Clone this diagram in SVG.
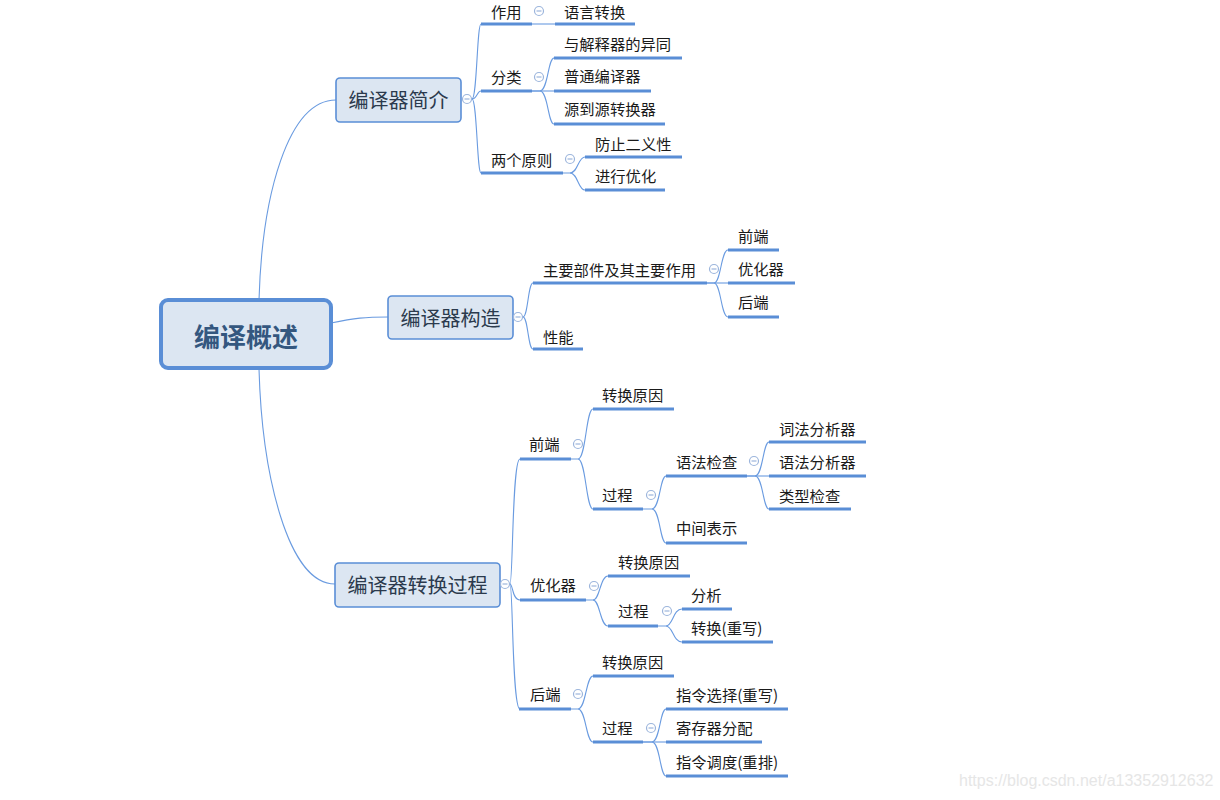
<svg xmlns="http://www.w3.org/2000/svg" width="1220" height="800" viewBox="0 0 1220 800">
<style>
.bg{fill:#ffffff}
.root{fill:#dce6f2;stroke:#5a8ed6;stroke-width:4}
.n1{fill:#dce6f2;stroke:#5a8ed6;stroke-width:1.6}
.rt{font-family:"Noto Sans CJK SC","Microsoft YaHei",sans-serif;font-size:26px;font-weight:bold;fill:#34577f;text-anchor:middle}
.t1{font-family:"Noto Sans CJK SC","Microsoft YaHei",sans-serif;font-size:20px;fill:#2b3a4d;text-anchor:middle}
.t{font-family:"Noto Sans CJK SC","Microsoft YaHei",sans-serif;font-size:15.3px;fill:#1a1a1a}
.ul{stroke:#5a8ed6;stroke-width:3;fill:none}
.c{stroke:#6a9be0;stroke-width:1.1;fill:none}
.col{fill:#ffffff;stroke:#9cb5dc;stroke-width:1.2}
.minus{stroke:#9cb5dc;stroke-width:1.2}
.wm{font-family:"Liberation Sans",Arial,sans-serif;font-size:16px;fill:#e6e6e6}
</style>
<defs>
<g id="cl"><circle class="col" cx="0" cy="0" r="4.5"/><line class="minus" x1="-2.5" y1="0" x2="2.5" y2="0"/></g>
</defs>
<rect class="bg" x="0" y="0" width="1220" height="800"/>

<g id="connectors">
<path class="c" d="M259,300 C262,195 288,100 336,100"/>
<path class="c" d="M331,323 C355,318 365,317 388,317"/>
<path class="c" d="M259,369 C262,475 288,584 335,584"/>
<path class="c" d="M472,99 C477,99 477,24 481,24"/>
<path class="c" d="M472,99 C477,99 477,91 481,91"/>
<path class="c" d="M472,99 C477,99 477,173 481,173"/>
<path class="c" d="M532,24 H555"/>
<path class="c" d="M532,91 H540 C548,91 548,58 554,58"/>
<path class="c" d="M532,91 H554"/>
<path class="c" d="M540,91 C548,91 548,124 554,124"/>
<path class="c" d="M563,173 H570 C578,173 578,157 585,157"/>
<path class="c" d="M570,173 C578,173 578,190 585,190"/>
<path class="c" d="M523,317 C528,317 528,283 533,283"/>
<path class="c" d="M523,317 C528,317 528,349 533,349"/>
<path class="c" d="M707,283 H714 C721,283 721,250 728,250"/>
<path class="c" d="M707,283 H728"/>
<path class="c" d="M714,283 C721,283 721,317 728,317"/>
<path class="c" d="M510,584 C513,584 512,459 520,459"/>
<path class="c" d="M510,584 C513,584 512,600 520,600"/>
<path class="c" d="M510,584 C513,584 512,709 520,709"/>
<path class="c" d="M571,459 H578 C586,459 586,409 593,409"/>
<path class="c" d="M578,459 C586,459 586,509 593,509"/>
<path class="c" d="M643,509 H652 C660,509 660,476 666,476"/>
<path class="c" d="M652,509 C660,509 660,543 666,543"/>
<path class="c" d="M747,476 H755 C763,476 763,442 769,442"/>
<path class="c" d="M747,476 H769"/>
<path class="c" d="M755,476 C763,476 763,509 769,509"/>
<path class="c" d="M586,600 H593 C600,600 600,576 608,576"/>
<path class="c" d="M593,600 C600,600 600,626 608,626"/>
<path class="c" d="M658,626 H666 C673,626 673,609 682,609"/>
<path class="c" d="M666,626 C673,626 673,642 682,642"/>
<path class="c" d="M571,709 H578 C586,709 586,676 593,676"/>
<path class="c" d="M578,709 C586,709 586,742 593,742"/>
<path class="c" d="M643,742 H652 C660,742 660,709 666,709"/>
<path class="c" d="M643,742 H666"/>
<path class="c" d="M652,742 C660,742 660,776 666,776"/>
</g>

<g id="root">
<rect class="root" x="161" y="300" width="170" height="68" rx="7"/>
<text class="rt" x="246" y="347">编译概述</text>
</g>

<g id="n-jianjie">
<rect class="n1" x="336" y="78" width="125" height="44" rx="4"/>
<text class="t1" x="398.5" y="107.5">编译器简介</text>
<use href="#cl" x="467" y="99"/>
</g>
<g id="n-gouzao">
<rect class="n1" x="388" y="296" width="125" height="43" rx="4"/>
<text class="t1" x="450.5" y="325.5">编译器构造</text>
<use href="#cl" x="518" y="317"/>
</g>
<g id="n-guocheng">
<rect class="n1" x="335" y="563" width="165" height="44" rx="4"/>
<text class="t1" x="417.5" y="592.5">编译器转换过程</text>
<use href="#cl" x="505" y="584"/>
</g>

<g id="n-zuoyong"><text class="t" x="491" y="18">作用</text><line class="ul" x1="481" y1="24" x2="532" y2="24"/><use href="#cl" x="539" y="11"/></g>
<g id="n-yuyanzhuanhuan"><text class="t" x="564" y="18">语言转换</text><line class="ul" x1="555" y1="24" x2="635" y2="24"/></g>
<g id="n-fenlei"><text class="t" x="491" y="82.5">分类</text><line class="ul" x1="481" y1="91" x2="532" y2="91"/><use href="#cl" x="539" y="77"/></g>
<g id="n-yijieshiqi"><text class="t" x="564" y="49.5">与解释器的异同</text><line class="ul" x1="554" y1="58" x2="682" y2="58"/></g>
<g id="n-putong"><text class="t" x="564" y="81.5">普通编译器</text><line class="ul" x1="554" y1="91" x2="651" y2="91"/></g>
<g id="n-yuandaoyuan"><text class="t" x="564" y="114.5">源到源转换器</text><line class="ul" x1="554" y1="124" x2="665" y2="124"/></g>
<g id="n-liangge"><text class="t" x="491" y="165.5">两个原则</text><line class="ul" x1="481" y1="173" x2="563" y2="173"/><use href="#cl" x="570" y="159"/></g>
<g id="n-fangzhi"><text class="t" x="595" y="149.5">防止二义性</text><line class="ul" x1="585" y1="157" x2="682" y2="157"/></g>
<g id="n-youhua"><text class="t" x="595" y="181.5">进行优化</text><line class="ul" x1="585" y1="190" x2="665" y2="190"/></g>

<g id="n-zhuyao"><text class="t" x="543" y="275.5">主要部件及其主要作用</text><line class="ul" x1="533" y1="283" x2="707" y2="283"/><use href="#cl" x="714" y="269"/></g>
<g id="n-qianduan1"><text class="t" x="738" y="241.5">前端</text><line class="ul" x1="728" y1="250" x2="779" y2="250"/></g>
<g id="n-youhuaqi1"><text class="t" x="738" y="274.5">优化器</text><line class="ul" x1="728" y1="283" x2="795" y2="283"/></g>
<g id="n-houduan1"><text class="t" x="738" y="307.5">后端</text><line class="ul" x1="728" y1="317" x2="779" y2="317"/></g>
<g id="n-xingneng"><text class="t" x="543" y="342.5">性能</text><line class="ul" x1="533" y1="349" x2="583" y2="349"/></g>

<g id="n-qianduan"><text class="t" x="529" y="449.5">前端</text><line class="ul" x1="520" y1="459" x2="571" y2="459"/><use href="#cl" x="578" y="444"/></g>
<g id="n-qd-yuanyin"><text class="t" x="602" y="400.5">转换原因</text><line class="ul" x1="593" y1="409" x2="674" y2="409"/></g>
<g id="n-qd-guocheng"><text class="t" x="602" y="500.5">过程</text><line class="ul" x1="593" y1="509" x2="643" y2="509"/><use href="#cl" x="651" y="495"/></g>
<g id="n-yufajiancha"><text class="t" x="676" y="467.5">语法检查</text><line class="ul" x1="666" y1="476" x2="747" y2="476"/><use href="#cl" x="754" y="461"/></g>
<g id="n-cifa"><text class="t" x="779" y="434.5">词法分析器</text><line class="ul" x1="769" y1="442" x2="866" y2="442"/></g>
<g id="n-yufa"><text class="t" x="779" y="467.5">语法分析器</text><line class="ul" x1="769" y1="476" x2="866" y2="476"/></g>
<g id="n-leixing"><text class="t" x="779" y="501.5">类型检查</text><line class="ul" x1="769" y1="509" x2="851" y2="509"/></g>
<g id="n-zhongjian"><text class="t" x="676" y="533.5">中间表示</text><line class="ul" x1="666" y1="543" x2="747" y2="543"/></g>

<g id="n-youhuaqi"><text class="t" x="530" y="590.5">优化器</text><line class="ul" x1="520" y1="600" x2="586" y2="600"/><use href="#cl" x="594" y="586"/></g>
<g id="n-yh-yuanyin"><text class="t" x="618" y="567.5">转换原因</text><line class="ul" x1="608" y1="576" x2="690" y2="576"/></g>
<g id="n-yh-guocheng"><text class="t" x="618" y="616.5">过程</text><line class="ul" x1="608" y1="626" x2="658" y2="626"/><use href="#cl" x="667" y="611"/></g>
<g id="n-fenxi"><text class="t" x="691" y="600.5">分析</text><line class="ul" x1="682" y1="609" x2="732" y2="609"/></g>
<g id="n-zhuanhuan"><text class="t" x="691" y="633.5">转换(重写)</text><line class="ul" x1="682" y1="642" x2="773" y2="642"/></g>

<g id="n-houduan"><text class="t" x="530" y="699.5">后端</text><line class="ul" x1="519" y1="709" x2="571" y2="709"/><use href="#cl" x="578" y="694"/></g>
<g id="n-hd-yuanyin"><text class="t" x="602" y="667.5">转换原因</text><line class="ul" x1="593" y1="676" x2="674" y2="676"/></g>
<g id="n-hd-guocheng"><text class="t" x="602" y="733.5">过程</text><line class="ul" x1="593" y1="742" x2="643" y2="742"/><use href="#cl" x="651" y="728"/></g>
<g id="n-xuanze"><text class="t" x="676" y="700.5">指令选择(重写)</text><line class="ul" x1="666" y1="709" x2="788" y2="709"/></g>
<g id="n-jicunqi"><text class="t" x="676" y="733.5">寄存器分配</text><line class="ul" x1="666" y1="742" x2="762" y2="742"/></g>
<g id="n-diaodu"><text class="t" x="676" y="767.5">指令调度(重排)</text><line class="ul" x1="666" y1="776" x2="788" y2="776"/></g>

<text class="wm" x="959" y="786">https://blog.csdn.net/a13352912632</text>
</svg>
